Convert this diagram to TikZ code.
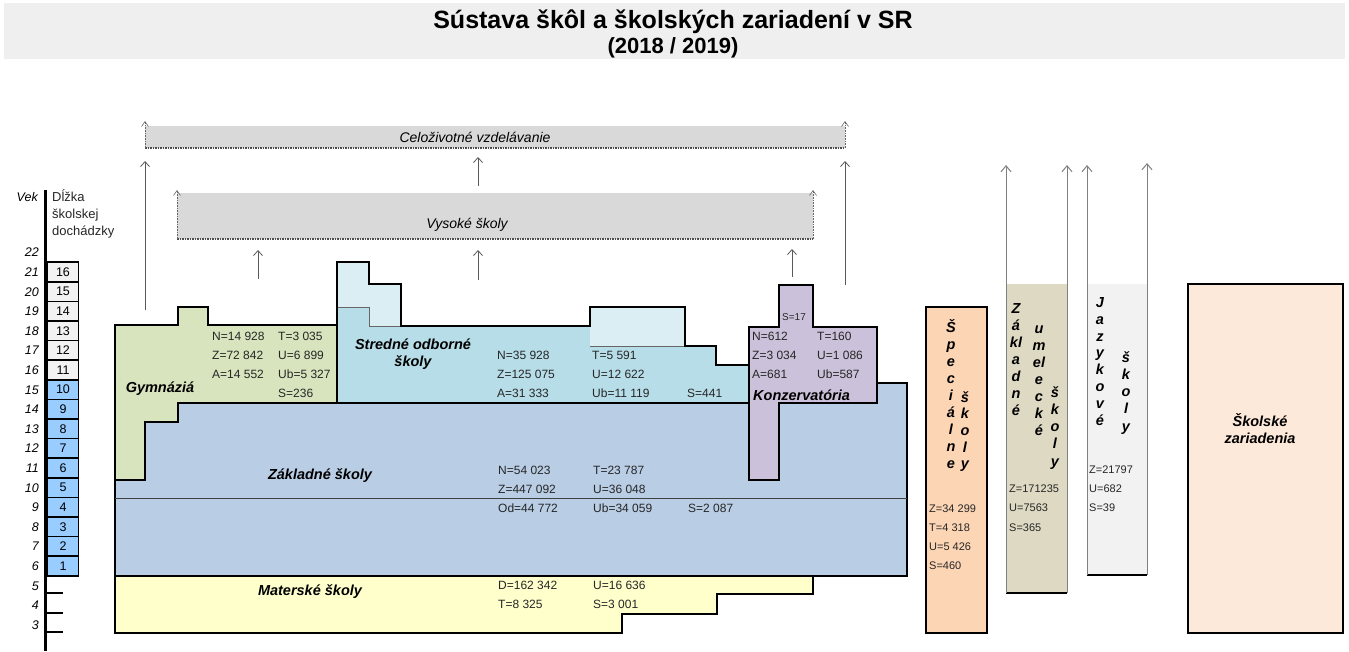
\documentclass[tikz,border=0pt]{standalone}
\usepackage{fontspec}
\setmainfont{Liberation Sans}
\usetikzlibrary{arrows.meta}
\definecolor{titlegray}{HTML}{EFEFEF}
\definecolor{bandgray}{HTML}{D9D9D9}
\definecolor{gymgreen}{HTML}{D7E4BD}
\definecolor{zsblue}{HTML}{B9CDE5}
\definecolor{ssblue}{HTML}{B7DDE8}
\definecolor{sslight}{HTML}{DBEEF4}
\definecolor{konzpurple}{HTML}{CCC1DA}
\definecolor{msyellow}{HTML}{FFFFCC}
\definecolor{specorange}{HTML}{FCD5B5}
\definecolor{zuskhaki}{HTML}{DDD9C3}
\definecolor{jazgray}{HTML}{F2F2F2}
\definecolor{szpeach}{HTML}{FDE9D9}
\definecolor{boxblue}{HTML}{99CCFF}
\definecolor{boxgray}{HTML}{F2F2F2}
\begin{document}
\begin{tikzpicture}[x=1pt,y=-1pt,
  blk/.style={draw=black, line width=1.6pt, line join=miter},
  num/.style={font=\fontsize{12}{14}\selectfont, anchor=west, inner sep=0pt, text height=8.6pt, text depth=0pt, text=black!85},
  snum/.style={font=\fontsize{11}{13}\selectfont, anchor=west, inner sep=0pt, text height=7.9pt, text depth=0pt, text=black!85},
  lab/.style={font=\fontsize{14.5}{17}\selectfont\bfseries\itshape, inner sep=0pt, text height=10.4pt, text depth=0pt},
  bandtext/.style={font=\fontsize{14}{17}\selectfont\itshape, inner sep=0pt, text height=10pt, text depth=0pt},
  uparrow/.style={draw=black!65, line width=0.8pt, -{Straight Barb[length=5pt,width=9pt]}},
  colarrow/.style={draw=black!50, line width=1pt, -{Straight Barb[length=6pt,width=10pt]}},
  sidearrow/.style={draw=black!60, line width=0.6pt, densely dotted, -{Straight Barb[length=5pt,width=7pt]}},
  bandedge/.style={draw=black!70, line width=1.5pt, densely dotted},
  boxcell/.style={draw=black, line width=1.5pt, minimum width=31pt, minimum height=19.6pt, inner sep=0pt, font=\fontsize{12.5}{14}\selectfont},
  agelab/.style={anchor=east, inner sep=0pt, font=\fontsize{12.5}{14}\selectfont\itshape, text height=9pt, text depth=0pt}
]
\useasboundingbox (0,0) rectangle (1349,651);
% title
\fill[titlegray] (4,3) rectangle (1345,59);
\node[font=\fontsize{25}{30}\selectfont\bfseries, inner sep=0pt] (title) at (673,22) {Sústava škôl a školských zariadení v SR};
\node[font=\fontsize{22}{26}\selectfont\bfseries, inner sep=0pt] (year) at (673,48) {(2018 / 2019)};

% bands
\fill[bandgray] (145,126) rectangle (845,148);
\draw[bandedge] (145,148) -- (845,148);
\draw[sidearrow] (145,148) -- (145,121);
\draw[sidearrow] (845,148) -- (845,121);
\node[bandtext] (clv) at (475,137) {Celoživotné vzdelávanie};

\fill[bandgray] (177,193) rectangle (813,239);
\draw[bandedge] (177,239) -- (813,239);
\draw[sidearrow] (177,239) -- (177,190);
\draw[sidearrow] (813,239) -- (813,190);
\node[bandtext] (vs) at (467,223) {Vysoké školy};

% arrows
\draw[uparrow] (145,310) -- (145,161);
\draw[uparrow] (845,285) -- (845,161);
\draw[uparrow] (478,186) -- (478,157);
\draw[uparrow] (258,279) -- (258,250);
\draw[uparrow] (478,280) -- (478,250);
\draw[uparrow] (792,277) -- (792,249);

% zakladne skoly
\filldraw[fill=zsblue, blk] (115,383) -- (907,383) -- (907,576) -- (115,576) -- cycle;
\draw[black!75, line width=0.8pt] (115,498) -- (907,498);
% materske skoly
\filldraw[fill=msyellow, blk] (115,576) -- (813,576) -- (813,594) -- (717,594) -- (717,614) -- (622,614) -- (622,633) -- (115,633) -- cycle;
% gymnazia
\filldraw[fill=gymgreen, blk] (115,325) -- (178,325) -- (178,307) -- (208,307) -- (208,325) -- (337,325) -- (337,403) -- (178,403) -- (178,422) -- (145,422) -- (145,480) -- (115,480) -- cycle;
% stredne odborne skoly
\fill[ssblue] (337,262) -- (369,262) -- (369,284) -- (401,284) -- (401,326) -- (590,326) -- (590,307) -- (685,307) -- (685,346) -- (716,346) -- (716,365) -- (749,365) -- (749,403) -- (337,403) -- cycle;
\fill[sslight] (337,262) -- (369,262) -- (369,284) -- (401,284) -- (401,326) -- (369,326) -- (369,307) -- (337,307) -- cycle;
\fill[sslight] (590,307) rectangle (685,346);
\draw[black!60, line width=0.8pt] (337,307) -- (369,307) -- (369,326) -- (401,326);
\draw[black!60, line width=0.8pt] (590,346) -- (685,346);
\draw[blk] (337,262) -- (369,262) -- (369,284) -- (401,284) -- (401,326) -- (590,326) -- (590,307) -- (685,307) -- (685,346) -- (716,346) -- (716,365) -- (749,365) -- (749,403) -- (337,403) -- cycle;
% konzervatoria
\filldraw[fill=konzpurple, blk] (749,327) -- (779,327) -- (779,285) -- (813,285) -- (813,327) -- (877,327) -- (877,403) -- (779,403) -- (779,480) -- (749,480) -- cycle;

% right columns
\filldraw[fill=specorange, blk] (926,307) rectangle (987,633);
\fill[zuskhaki] (1006,284) rectangle (1067,593);
\draw[blk] (1006,593) -- (1067,593);
\draw[colarrow] (1006,593) -- (1006,165);
\draw[colarrow] (1067,593) -- (1067,165);
\fill[jazgray] (1087,284) rectangle (1147,575);
\draw[blk] (1087,575) -- (1147,575);
\draw[colarrow] (1087,575) -- (1087,165);
\draw[colarrow] (1147,575) -- (1147,163);
\filldraw[fill=szpeach, blk] (1188,284) rectangle (1343,633);

% left axis
\draw[line width=3pt] (45,190) -- (45,651);
\foreach \n in {1,...,10} \node[boxcell, fill=boxblue] (b\n) at (63,{566-(\n-1)*19.6}) {\n};
\foreach \n in {11,...,16} \node[boxcell, fill=boxgray] (b\n) at (63,{566-(\n-1)*19.6}) {\n};
\foreach \a in {3,...,22} \node[agelab] (age\a) at (39,{566-(\a-6)*19.6}) {\a};
\draw[line width=1.5pt] (45,593) -- (63,593);
\draw[line width=1.5pt] (45,613) -- (63,613);
\draw[line width=1.5pt] (45,632) -- (63,632);
\node[agelab] (vek) at (38,197) {Vek};
\node[num, font=\fontsize{13}{15}\selectfont] (dl1) at (52,197) {Dĺžka};
\node[num, font=\fontsize{13}{15}\selectfont] (dl2) at (52,214) {školskej};
\node[num, font=\fontsize{13}{15}\selectfont] (dl3) at (52,231) {dochádzky};

% gymnazia text
\node[lab] (gym) at (160,387) {Gymnáziá};
\node[num] (g1) at (212,336) {N=14 928};
\node[num] (g2) at (212,355) {Z=72 842};
\node[num] (g3) at (212,374) {A=14 552};
\node[num] (g4) at (278,336) {T=3 035};
\node[num] (g5) at (278,355) {U=6 899};
\node[num] (g6) at (278,374) {Ub=5 327};
\node[num] (g7) at (278,393) {S=236};

% stredne text
\node[lab] (ss1) at (413,344) {Stredné odborné};
\node[lab] (ss2) at (413,361) {školy};
\node[num] (s1) at (497,355) {N=35 928};
\node[num] (s2) at (497,374) {Z=125 075};
\node[num] (s3) at (497,393) {A=31 333};
\node[num] (s4) at (592,355) {T=5 591};
\node[num] (s5) at (592,374) {U=12 622};
\node[num] (s6) at (592,393) {Ub=11 119};
\node[num] (s7) at (687,393) {S=441};

% konzervatoria text
\node[snum, font=\fontsize{10}{12}\selectfont, text height=7.2pt] (k0) at (782,317) {S=17};
\node[num] (k1) at (752,336) {N=612};
\node[num] (k2) at (752,355) {Z=3 034};
\node[num] (k3) at (752,374) {A=681};
\node[num] (k4) at (817,336) {T=160};
\node[num] (k5) at (817,355) {U=1 086};
\node[num] (k6) at (817,374) {Ub=587};
\node[lab, anchor=west] (konz) at (753,395) {Konzervatória};

% zakladne text
\node[lab] (zs) at (320,474) {Základné školy};
\node[num] (z1) at (498,470) {N=54 023};
\node[num] (z2) at (498,489) {Z=447 092};
\node[num] (z3) at (498,508) {Od=44 772};
\node[num] (z4) at (593,470) {T=23 787};
\node[num] (z5) at (593,489) {U=36 048};
\node[num] (z6) at (593,508) {Ub=34 059};
\node[num] (z7) at (688,508) {S=2 087};

% materske text
\node[lab] (ms) at (310,590) {Materské školy};
\node[num] (m1) at (498,585) {D=162 342};
\node[num] (m2) at (498,604) {T=8 325};
\node[num] (m3) at (593,585) {U=16 636};
\node[num] (m4) at (593,604) {S=3 001};

% specialne skoly
\foreach \c [count=\i from 0] in {Š,p,e,c,i,á,l,n,e} \node[lab] (sp\i) at (951,{327+17*\i}) {\c};
\foreach \c [count=\i from 0] in {š,k,o,l,y} \node[lab] (spb\i) at (965,{397+16.6*\i}) {\c};
\node[snum] (p1) at (929,509) {Z=34 299};
\node[snum] (p2) at (929,528) {T=4 318};
\node[snum] (p3) at (929,547) {U=5 426};
\node[snum] (p4) at (929,566) {S=460};

% ZUS
\foreach \c [count=\i from 0] in {Z,á,kl,a,d,n,é} \node[lab] (zu\i) at (1016,{308+17*\i}) {\c};
\foreach \c [count=\i from 0] in {u,m,el,e,c,k,é} \node[lab] (zv\i) at (1039,{328+17*\i}) {\c};
\foreach \c [count=\i from 0] in {š,k,o,l,y} \node[lab] (zw\i) at (1055,{392+17.2*\i}) {\c};
\node[snum] (u1) at (1009,489) {Z=171235};
\node[snum] (u2) at (1009,508) {U=7563};
\node[snum] (u3) at (1009,528) {S=365};

% jazykove
\foreach \c [count=\i from 0] in {J,a,z,y,k,o,v,é} \node[lab] (j\i) at (1100,{302+16.9*\i}) {\c};
\foreach \c [count=\i from 0] in {š,k,o,l,y} \node[lab] (jb\i) at (1126,{357+17.2*\i}) {\c};
\node[snum] (ja1) at (1089,470) {Z=21797};
\node[snum] (ja2) at (1089,489) {U=682};
\node[snum] (ja3) at (1089,508) {S=39};

% skolske zariadenia
\node[lab] (sz1) at (1260,421) {Školské};
\node[lab] (sz2) at (1260,438) {zariadenia};
\end{tikzpicture}
\end{document}
